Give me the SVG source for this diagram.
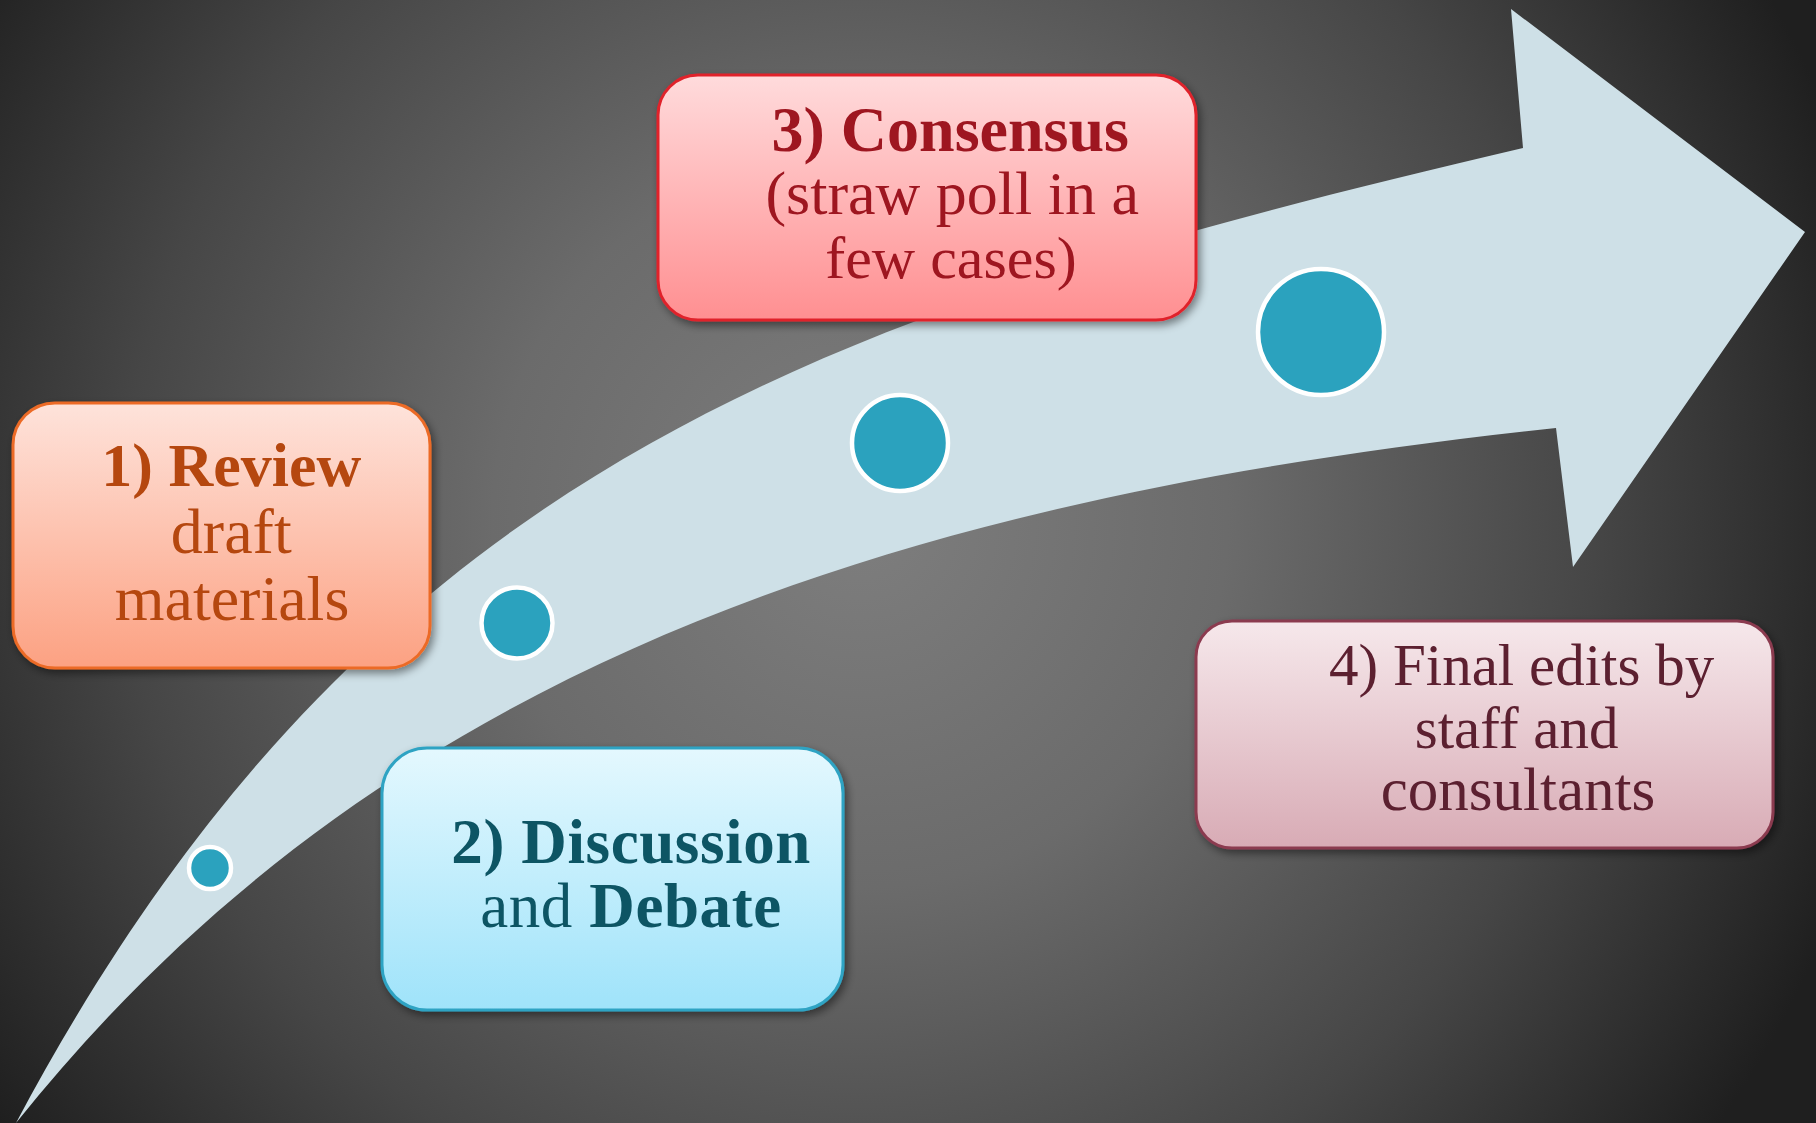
<svg xmlns="http://www.w3.org/2000/svg" width="1816" height="1123" viewBox="0 0 1816 1123">
  <defs>
    <radialGradient id="bg" gradientUnits="userSpaceOnUse" cx="860" cy="520" r="1050">
      <stop offset="0" stop-color="#7e7e7e"/>
      <stop offset="0.35" stop-color="#6b6b6b"/>
      <stop offset="0.7" stop-color="#464646"/>
      <stop offset="1" stop-color="#1f1f1f"/>
    </radialGradient>
    <linearGradient id="gOrange" x1="0" y1="0" x2="0" y2="1">
      <stop offset="0" stop-color="#fee3db"/>
      <stop offset="1" stop-color="#fca182"/>
    </linearGradient>
    <linearGradient id="gBlue" x1="0" y1="0" x2="0" y2="1">
      <stop offset="0" stop-color="#e4f8fe"/>
      <stop offset="1" stop-color="#9fe3fa"/>
    </linearGradient>
    <linearGradient id="gRed" x1="0" y1="0" x2="0" y2="1">
      <stop offset="0" stop-color="#ffdbdc"/>
      <stop offset="1" stop-color="#ff8f91"/>
    </linearGradient>
    <linearGradient id="gMauve" x1="0" y1="0" x2="0" y2="1">
      <stop offset="0" stop-color="#f6e8eb"/>
      <stop offset="1" stop-color="#d8abb5"/>
    </linearGradient>
    <filter id="shadow" x="-10%" y="-10%" width="125%" height="130%">
      <feDropShadow dx="3" dy="4" stdDeviation="4" flood-color="#000" flood-opacity="0.45"/>
    </filter>
  </defs>
  <style>
    .box { stroke-width: 3; filter: url(#shadow); }
    .label { font-family: "Liberation Serif", "Times New Roman", serif; text-anchor: middle; }
    .b { font-weight: bold; }
    .dot { fill: #2ba2be; stroke: #ffffff; stroke-width: 4.5; }
  </style>

  <!-- backdrop -->
  <rect width="1816" height="1123" fill="url(#bg)"/>

  <!-- curved progress arrow -->
  <g id="connectors">
    <path id="arrow" fill="#cee0e7"
          d="M16,1123 C366,465 823,312 1523,148 L1511,9 L1805,232 L1573,567 L1556,428 C856,502 366,685 16,1123 Z"/>
  </g>

  <!-- milestone dots along the arrow -->
  <g id="dots">
    <circle class="dot" cx="210" cy="868" r="21"/>
    <circle class="dot" cx="517" cy="623" r="35.5"/>
    <circle class="dot" cx="900" cy="443" r="48"/>
    <circle class="dot" cx="1321" cy="332" r="63"/>
  </g>

  <!-- step 1 -->
  <g id="step1">
    <rect class="box" x="13" y="403" width="417" height="265" rx="42" fill="url(#gOrange)" stroke="#ec6b25"/>
    <text class="label" fill="#b5470f" font-size="62">
      <tspan class="b" x="239" y="486">1) Review</tspan>
      <tspan x="239" y="553" font-size="64">draft</tspan>
      <tspan x="232" y="620" font-size="64">materials</tspan>
    </text>
  </g>

  <!-- step 2 -->
  <g id="step2">
    <rect class="box" x="382" y="748" width="461" height="262" rx="45" fill="url(#gBlue)" stroke="#2fa3c3"/>
    <text class="label" fill="#0d5564" font-size="63">
      <tspan class="b" x="639" y="863" letter-spacing="0.6">2) Discussion</tspan>
      <tspan x="631" y="927" letter-spacing="0.6">and <tspan class="b">Debate</tspan></tspan>
    </text>
  </g>

  <!-- step 3 -->
  <g id="step3">
    <rect class="box" x="658" y="75" width="538" height="245" rx="40" fill="url(#gRed)" stroke="#e0222c"/>
    <text class="label" fill="#9e1620" font-size="62">
      <tspan class="b" x="958" y="151" font-size="64">3) Consensus</tspan>
      <tspan x="960" y="214">(straw poll in a</tspan>
      <tspan x="951" y="278" font-size="60">few cases)</tspan>
    </text>
  </g>

  <!-- step 4 -->
  <g id="step4">
    <rect class="box" x="1196" y="621" width="577" height="227" rx="36" fill="url(#gMauve)" stroke="#8b3a4f" stroke-width="2.5"/>
    <text class="label" fill="#5c2030" font-size="59">
      <tspan x="1529" y="685">4) Final edits by</tspan>
      <tspan x="1524" y="748" font-size="59">staff and</tspan>
      <tspan x="1518" y="810" font-size="61">consultants</tspan>
    </text>
  </g>
</svg>
